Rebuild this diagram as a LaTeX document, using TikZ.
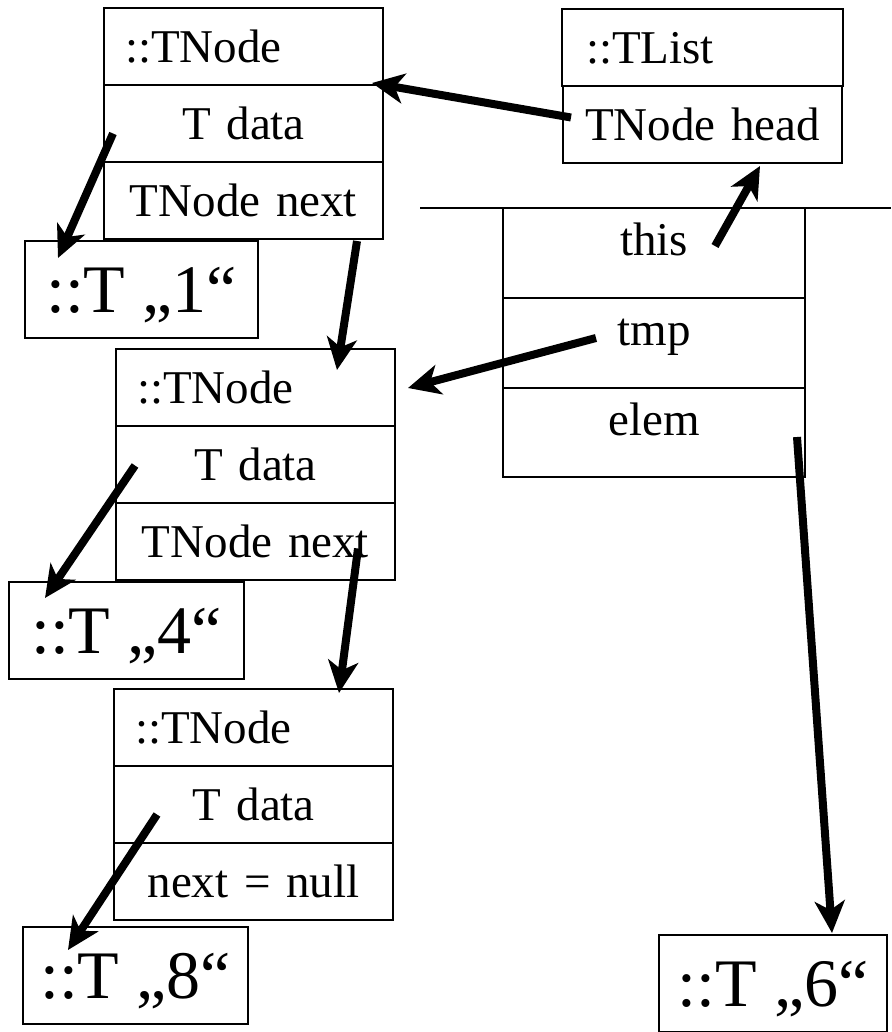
\documentclass[tikz,border=0pt]{standalone}
\usepackage{fontspec}
\setmainfont{Liberation Serif}
\usetikzlibrary{positioning,arrows.meta}
\newcommand{\cellfont}{\fontsize{47}{56}\selectfont}
\newcommand{\valfont}{\fontsize{68}{80}\selectfont}
\begin{document}
\begin{tikzpicture}[x=1pt, y=-1pt,
        cell/.style={draw, line width=2pt, outer sep=0pt, inner xsep=21pt, inner ysep=22.5pt, text width=237pt, align=center, text height=32pt, text depth=0pt, font=\cellfont},% one row of an object
        hdr/.style={cell, align=left},% class name row
        slot/.style={draw, line width=2pt, outer sep=0pt, inner xsep=0pt, inner ysep=0pt, text width=302pt, align=center, text height=47pt, text depth=43pt, font=\cellfont},% stack frame slot
        obj/.style={draw, line width=2pt, outer sep=0pt, inner xsep=0pt, inner ysep=25.5pt, minimum width=232pt, text height=46pt, text depth=0pt, font=\valfont},% value object
        ptr/.style={line width=8pt, -{Stealth[length=32pt, width=30pt, inset=9pt]}},% reference
    ]
        \useasboundingbox (0,0) rectangle (891,1032);

        % first node
        \node [hdr, anchor=north west] (nodeA) at (104,8) {::TNode};
        \node [cell, below=0pt of nodeA] (dataA) {T data};
        \node [cell, below=0pt of dataA] (nextA) {TNode next};
        \node [obj, anchor=north west, minimum width=233pt] (one) at (25,241) {::T „1“};

        % second node
        \node [hdr, anchor=north west] (nodeB) at (116,349) {::TNode};
        \node [cell, below=0pt of nodeB] (dataB) {T data};
        \node [cell, below=0pt of dataB] (nextB) {TNode next};
        \node [obj, anchor=north west, minimum width=235pt] (four) at (9,582) {::T „4“};

        % third node
        \node [hdr, anchor=north west] (nodeC) at (114,689) {::TNode};
        \node [cell, below=0pt of nodeC] (dataC) {T data};
        \node [cell, below=0pt of dataC] (nextC) {next = null};
        \node [obj, anchor=north west, minimum width=225pt] (eight) at (23,927) {::T „8“};

        % list
        \node [hdr, anchor=north west, inner xsep=24pt, text width=233pt] (listHdr) at (562,9) {::TList};
        \node [cell, below=0pt of listHdr] (listHead) {TNode head};

        % stack frame
        \coordinate (frameL) at (420,208);
        \coordinate (frameR) at (891,208);
        \draw [line width=1.5pt] (frameL) -- (frameR);
        \node [slot, anchor=north west] (this) at (503,208) {this};
        \node [slot, below=0pt of this] (tmp) {tmp};
        \node [slot, below=0pt of tmp, text depth=42pt] (elem) {elem};
        \node [obj, anchor=north west, minimum width=228pt] (six) at (659,935) {::T „6“};

        % references
        \draw [ptr] ([xshift=8pt,yshift=7pt]listHead.west) -- ([xshift=-11pt,yshift=2pt]nodeA.south east);
        \draw [ptr] ([xshift=9pt,yshift=-10pt]dataA.west) -- ([xshift=33pt,yshift=-17pt]one.north west);
        \draw [ptr] ([xshift=-26pt,yshift=-2pt]nextA.south east) -- ([xshift=-58pt,yshift=-21pt]nodeB.north east);
        \draw [ptr] ([xshift=61pt,yshift=-38pt]this.north) -- ([xshift=-82pt,yshift=-3pt]listHead.south east);
        \draw [ptr] ([xshift=-58pt,yshift=-40pt]tmp.north) -- ([xshift=13pt,yshift=38pt]nodeB.south east);
        \draw [ptr] ([xshift=19pt,yshift=-1pt]dataB.west) -- ([xshift=36pt,yshift=-16pt]four.north west);
        \draw [ptr] ([xshift=-37pt,yshift=-7pt]nextB.east) -- ([xshift=-54pt,yshift=-4pt]nodeC.north east);
        \draw [ptr] ([xshift=-8pt,yshift=-49pt]elem.north east) -- ([xshift=59pt,yshift=2pt]six.north);
        \draw [ptr] ([xshift=43pt,yshift=-10pt]dataC.west) -- ([xshift=45pt,yshift=-23pt]eight.north west);
\end{tikzpicture}
\end{document}
